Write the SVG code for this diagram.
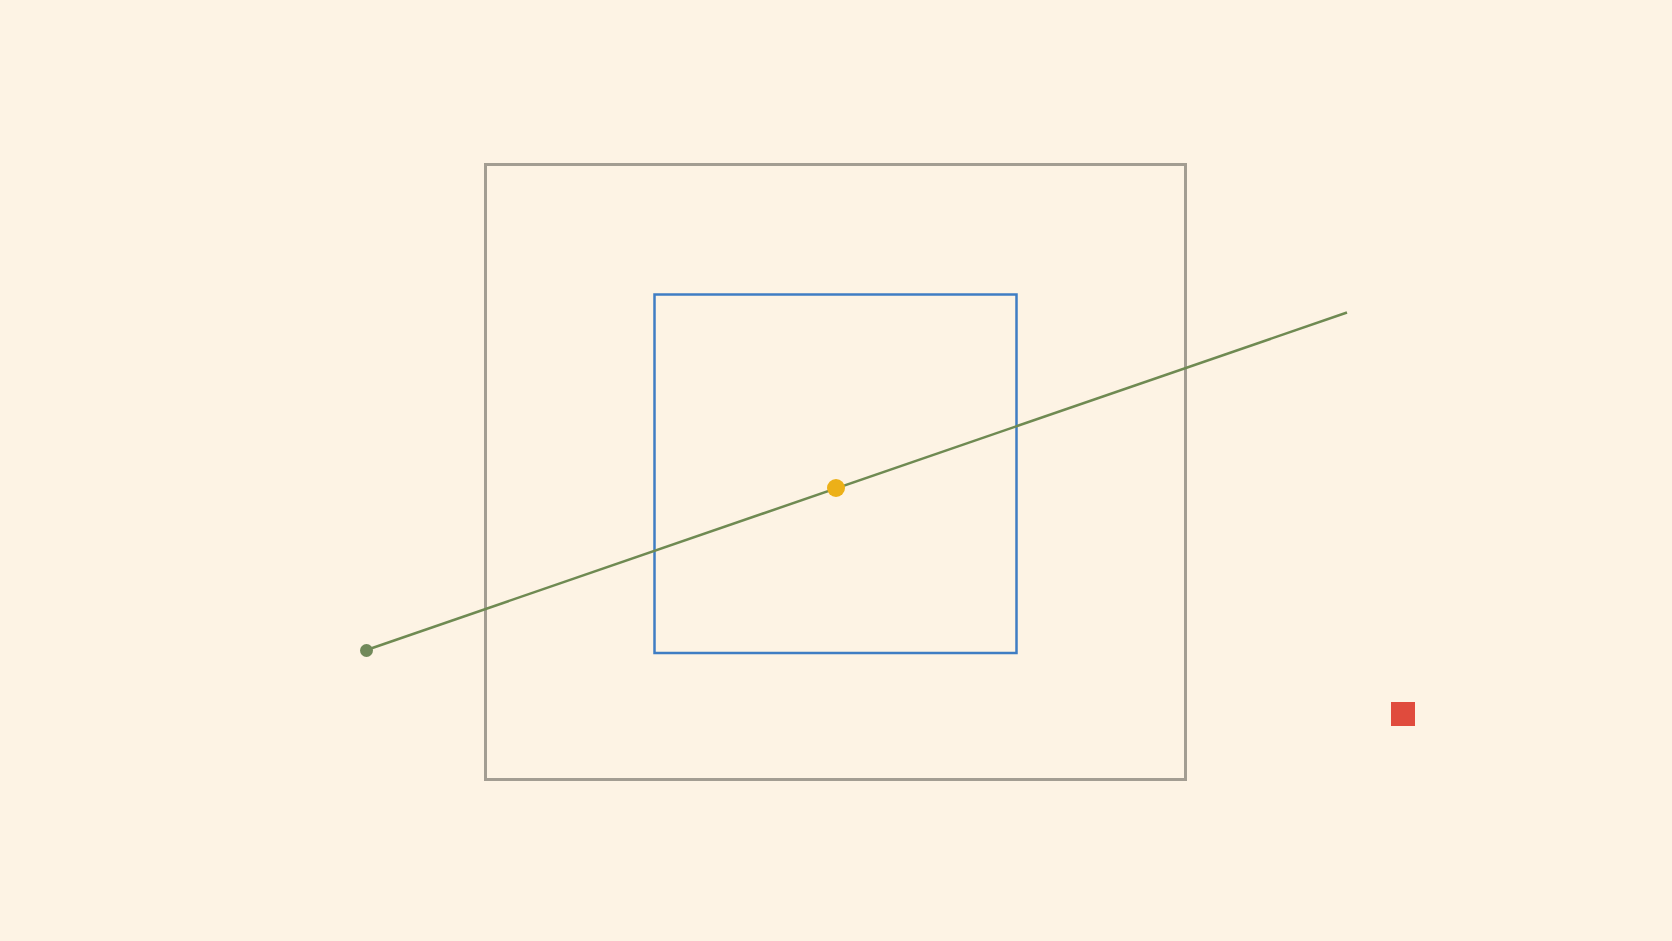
<svg xmlns="http://www.w3.org/2000/svg" width="1672" height="941" viewBox="0 0 1672 941">
<style>
.outer{fill:none;stroke:#a39d92;stroke-width:3}
.inner{fill:none;stroke:#3f7dc3;stroke-width:2.5}
.ray{stroke:#6f8a52;stroke-width:2.5;fill:none}
</style>
<rect width="1672" height="941" fill="#fdf3e4"/>
<g id="outer-frame"><rect class="outer" x="485.5" y="164.5" width="700" height="615"/></g>
<g id="inner-frame"><rect class="inner" x="654.5" y="294.5" width="362" height="358.5"/></g>
<g id="connectors"><line class="ray" x1="366.5" y1="650" x2="1347" y2="312.5"/></g>
<g id="start-point"><circle cx="366.5" cy="650.5" r="6.5" fill="#71895a"/></g>
<g id="center-point"><circle cx="836" cy="488" r="9" fill="#ecb018"/></g>
<g id="red-marker"><rect x="1391" y="702" width="24" height="24" fill="#e04b3d"/></g>
</svg>
